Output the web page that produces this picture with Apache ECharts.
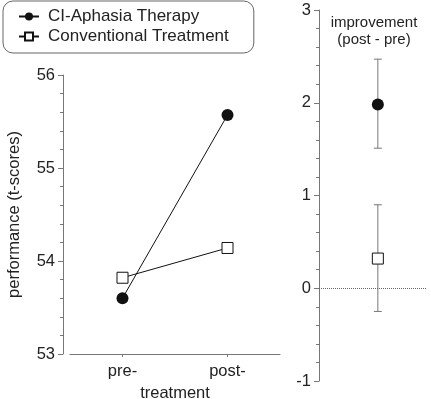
<!DOCTYPE html>
<html>
<head>
<meta charset="utf-8">
<script src="https://cdn.jsdelivr.net/npm/echarts@6/dist/echarts.min.js"></script>
<style>
  html, body { margin: 0; padding: 0; background: #fff; }
  #chart { width: 431px; height: 399px; }
</style>
</head>
<body>
<div id="chart"></div>
<script>
const FONT_FAMILY = "'Liberation Sans', Arial, sans-serif"
const COLORS = {
  text: '#222',
  axis: '#777',
  mark: '#111',
  bar: '#777',
}

// left panel: performance before / after treatment
const phases = ['pre-', 'post-']
const ciScores = [53.6, 55.57]
const conventionalScores = [53.82, 54.14]

// right panel: improvement (post - pre) with error bars
const groups = ['CI-Aphasia Therapy', 'Conventional Treatment']
const improvementMean = [1.98, 0.32]
const improvementLow = [1.51, -0.25]
const improvementHigh = [2.47, 0.9]
const improvementPos = 0.55 // place of the points on the hidden x axis of the right panel

const chart = echarts.init(document.getElementById('chart'))

const labelStyle = { fontFamily: FONT_FAMILY, fontSize: 16.5, color: COLORS.text }
const valueAxis = {
  type: 'value',
  interval: 1,
  axisLine: { show: true, lineStyle: { color: COLORS.axis, width: 1 } },
  axisTick: { show: true, length: 5, lineStyle: { color: COLORS.axis } },
  minorTick: { show: true, splitNumber: 5, length: 3, lineStyle: { color: COLORS.axis } },
  minorSplitLine: { show: false },
  splitLine: { show: false },
  axisLabel: { ...labelStyle, margin: 8 },
}

chart.setOption({
  animation: false,
  textStyle: { fontFamily: FONT_FAMILY },
  legend: {
    data: groups,
    orient: 'vertical',
    left: 3,
    top: 1,
    padding: [7, 25, 8, 15],
    itemGap: 3,
    itemWidth: 20,
    itemHeight: 10,
    borderColor: '#666',
    borderWidth: 1,
    borderRadius: 10,
    textStyle: { fontFamily: FONT_FAMILY, fontSize: 17, color: COLORS.text, padding: [0, 0, 0, 4] },
  },
  graphic: [{
    type: 'text',
    x: 374,
    y: 14,
    style: {
      text: 'improvement\n(post - pre)',
      fontFamily: FONT_FAMILY,
      fontSize: 15,
      fill: COLORS.text,
      textAlign: 'center',
      lineHeight: 17,
    },
  }],
  grid: [
    { left: 70, right: 151, top: 75, bottom: 45, outerBoundsMode: 'none' },
    { left: 319, right: 5, top: 10, bottom: 18, outerBoundsMode: 'none' },
  ],
  xAxis: [
    {
      gridIndex: 0,
      type: 'category',
      data: phases,
      boundaryGap: true,
      name: 'treatment',
      nameLocation: 'middle',
      nameGap: 29,
      nameTextStyle: labelStyle,
      axisLine: { show: true, lineStyle: { color: COLORS.axis, width: 1 } },
      axisTick: { show: true, alignWithLabel: true, length: 3, lineStyle: { color: COLORS.axis } },
      axisLabel: { ...labelStyle, margin: 9 },
      splitLine: { show: false },
    },
    {
      gridIndex: 1,
      type: 'value',
      min: 0,
      max: 1,
      show: false,
    },
  ],
  yAxis: [
    {
      ...valueAxis,
      gridIndex: 0,
      min: 53,
      max: 56,
      offset: 7,
      name: 'performance (t-scores)',
      nameLocation: 'middle',
      nameGap: 40,
      nameTextStyle: labelStyle,
    },
    {
      ...valueAxis,
      gridIndex: 1,
      min: -1,
      max: 3,
    },
  ],
  series: [
    {
      name: groups[0],
      type: 'line',
      xAxisIndex: 0,
      yAxisIndex: 0,
      data: ciScores,
      symbol: 'circle',
      symbolSize: 12,
      itemStyle: { color: COLORS.mark },
      lineStyle: { color: COLORS.mark, width: 1 },
      z: 3,
    },
    {
      name: groups[1],
      type: 'line',
      xAxisIndex: 0,
      yAxisIndex: 0,
      data: conventionalScores,
      symbol: 'rect',
      symbolSize: 11,
      itemStyle: { color: '#fff', borderColor: COLORS.mark, borderWidth: 1 },
      lineStyle: { color: COLORS.mark, width: 1 },
      z: 4,
    },
    {
      name: 'error bars',
      type: 'custom',
      xAxisIndex: 1,
      yAxisIndex: 1,
      data: groups.map((g, i) => [improvementPos, improvementLow[i], improvementHigh[i]]),
      renderItem(params, api) {
        const lo = api.coord([api.value(0), api.value(1)])
        const hi = api.coord([api.value(0), api.value(2)])
        const cap = 4
        const style = { stroke: COLORS.bar, lineWidth: 1 }
        return {
          type: 'group',
          children: [
            { type: 'line', shape: { x1: lo[0], y1: lo[1], x2: hi[0], y2: hi[1] }, style },
            { type: 'line', shape: { x1: lo[0] - cap, y1: lo[1], x2: lo[0] + cap, y2: lo[1] }, style },
            { type: 'line', shape: { x1: hi[0] - cap, y1: hi[1], x2: hi[0] + cap, y2: hi[1] }, style },
          ],
        }
      },
      markLine: {
        silent: true,
        symbol: 'none',
        label: { show: false },
        lineStyle: { color: '#666', type: 'dotted', width: 1 },
        data: [{ yAxis: 0 }],
      },
      z: 2,
    },
    {
      name: 'ci improvement',
      type: 'scatter',
      xAxisIndex: 1,
      yAxisIndex: 1,
      data: [[improvementPos, improvementMean[0]]],
      symbol: 'circle',
      symbolSize: 12,
      itemStyle: { color: COLORS.mark, opacity: 1 },
      z: 4,
    },
    {
      name: 'conventional improvement',
      type: 'scatter',
      xAxisIndex: 1,
      yAxisIndex: 1,
      data: [[improvementPos, improvementMean[1]]],
      symbol: 'rect',
      symbolSize: 11,
      itemStyle: { color: '#fff', borderColor: COLORS.mark, borderWidth: 1, opacity: 1 },
      z: 4,
    },
  ],
})
</script>
</body>
</html>
